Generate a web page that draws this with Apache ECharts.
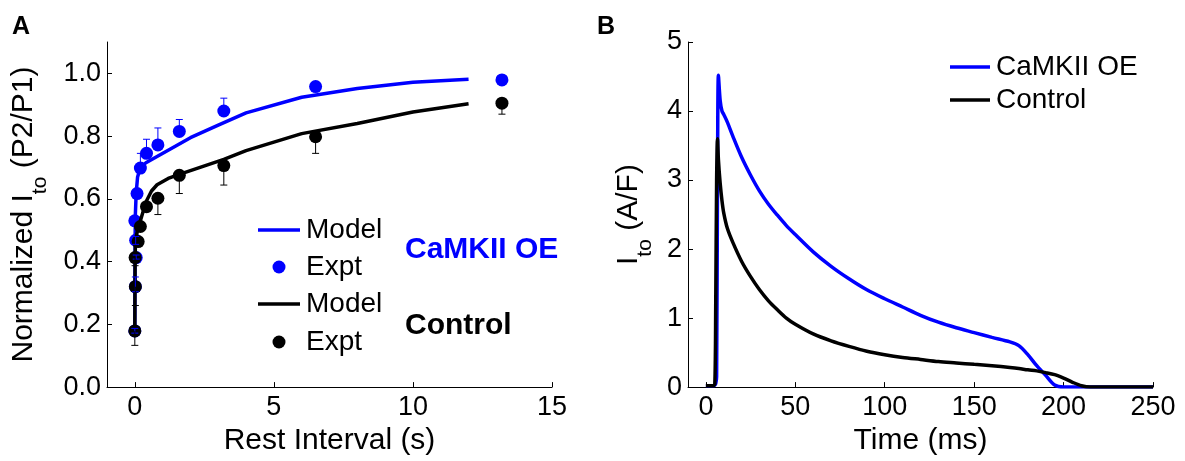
<!DOCTYPE html>
<html>
<head>
<meta charset="utf-8">
<script src="https://cdn.jsdelivr.net/npm/echarts@6/dist/echarts.min.js"></script>
<style>
html,body{margin:0;padding:0;background:#fff;}
#chart{width:1185px;height:461px;}
</style>
</head>
<body>
<div id="chart"></div>
<script>
// ---------- Panel A: recovery of Ito ----------
const restTicks = [0, 5, 10, 15];
const ratioTicks = [0, 0.2, 0.4, 0.6, 0.8, 1.0];

const oeModelX = [0, 0.005, 0.01, 0.02, 0.05, 0.1, 0.2, 0.4, 0.8, 1.2, 2, 3, 4, 6, 8, 10, 12];
const oeModelY = [0.18, 0.35, 0.47, 0.55, 0.62, 0.67, 0.70, 0.715, 0.735, 0.755, 0.795, 0.835, 0.874, 0.924, 0.952, 0.972, 0.981];

const ctlModelX = [0, 0.005, 0.01, 0.02, 0.05, 0.1, 0.2, 0.4, 0.6, 0.8, 1.2, 1.6, 2, 3.2, 4, 6, 8, 10, 12];
const ctlModelY = [0.18, 0.3, 0.4, 0.45, 0.48, 0.5, 0.53, 0.59, 0.625, 0.645, 0.665, 0.678, 0.69, 0.726, 0.754, 0.808, 0.84, 0.877, 0.903];

const oeExptX = [0, 0.02, 0.05, 0.03, 0, 0.08, 0.2, 0.42, 0.83, 1.6, 3.2, 6.5, 13.2];
const oeExptY = [0.179, 0.32, 0.413, 0.468, 0.53, 0.617, 0.698, 0.745, 0.772, 0.815, 0.88, 0.958, 0.979];
const oeErrLow = [0.172, 0.304, 0.408, 0.455, 0.53, 0.617, 0.698, 0.745, 0.772, 0.815, 0.88, 0.958, 0.979];
const oeErrHigh = [0.187, 0.351, 0.421, 0.48, 0.53, 0.617, 0.745, 0.79, 0.826, 0.853, 0.921, 0.958, 0.979];

const ctlExptX = [0, 0.02, 0.01, 0.12, 0.2, 0.42, 0.83, 1.6, 3.2, 6.5, 13.2];
const ctlExptY = [0.179, 0.32, 0.413, 0.464, 0.512, 0.575, 0.602, 0.675, 0.706, 0.798, 0.905];
const ctlErrLow = [0.133, 0.26, 0.387, 0.464, 0.512, 0.575, 0.55, 0.617, 0.644, 0.745, 0.87];
const ctlErrHigh = [0.179, 0.32, 0.413, 0.464, 0.512, 0.575, 0.602, 0.675, 0.706, 0.798, 0.905];

// ---------- Panel B: Ito time course ----------
const timeTicks = [0, 50, 100, 150, 200, 250];
const currentTicks = [0, 1, 2, 3, 4, 5];
const timeMs =     [0, 2, 4, 5, 5.5, 6, 6.5, 7, 8, 9, 10, 12, 15, 20, 25, 30, 35, 40, 45, 50, 60, 70, 80, 90, 100, 110, 120, 130, 140, 150, 160, 170, 175, 180, 185, 190, 195, 200, 205, 210, 215, 220, 250];
const oeCurrent =  [0.02, 0.02, 0.02, 0.03, 0.05, 0.15, 3.0, 4.52, 4.15, 4.0, 3.95, 3.84, 3.64, 3.33, 3.07, 2.84, 2.65, 2.49, 2.34, 2.21, 1.96, 1.75, 1.57, 1.41, 1.28, 1.16, 1.04, 0.94, 0.86, 0.79, 0.72, 0.655, 0.6, 0.47, 0.31, 0.17, 0.03, 0, 0, 0, 0, 0, 0];
const ctlCurrent = [0.02, 0.02, 0.02, 0.05, 1.2, 3.0, 3.6, 3.3, 2.95, 2.7, 2.52, 2.3, 2.1, 1.82, 1.6, 1.41, 1.25, 1.12, 1.0, 0.91, 0.77, 0.67, 0.59, 0.52, 0.47, 0.43, 0.40, 0.37, 0.35, 0.33, 0.31, 0.285, 0.27, 0.25, 0.235, 0.21, 0.18, 0.13, 0.07, 0.02, 0, 0, 0];

// ---------- styling ----------
const FONT = "'Liberation Sans', Arial, Helvetica, sans-serif";
const BLUE = '#0000ff';
const BLACK = '#000000';

const zip = (xs, ys) => xs.map((x, i) => [x, ys[i]]);
const errData = (xs, ys, lo, hi) => xs.map((x, i) => [x, lo[i], hi[i], ys[i]]);

function errRender(color) {
  return function (params, api) {
    const x = api.value(0), lo = api.value(1), hi = api.value(2), y = api.value(3);
    if (lo === hi) return null;
    const pLo = api.coord([x, lo]);
    const pHi = api.coord([x, hi]);
    const cw = 3.5;
    const style = { stroke: color, lineWidth: 1 };
    const children = [{ type: 'line', shape: { x1: pLo[0], y1: pLo[1], x2: pHi[0], y2: pHi[1] }, style }];
    if (lo < y) children.push({ type: 'line', shape: { x1: pLo[0] - cw, y1: pLo[1], x2: pLo[0] + cw, y2: pLo[1] }, style });
    if (hi > y) children.push({ type: 'line', shape: { x1: pHi[0] - cw, y1: pHi[1], x2: pHi[0] + cw, y2: pHi[1] }, style });
    return { type: 'group', children };
  };
}

const axisCommon = {
  type: 'value',
  axisLine: { onZero: false, lineStyle: { color: BLACK, width: 1 } },
  splitLine: { show: false },
  nameTextStyle: { color: BLACK, fontFamily: FONT, fontSize: 30 },
};

const subRich = {
  m: { fontSize: 30, fontFamily: FONT, color: BLACK },
  s: { fontSize: 21, fontFamily: FONT, color: BLACK, padding: [34, 0, 0, 0] }
};

const option = {
  animation: false,
  backgroundColor: '#ffffff',
  grid: [
    { left: 107, top: 42, width: 445, height: 347 },
    { left: 688, top: 42, width: 465, height: 347 }
  ],
  xAxis: [
    Object.assign({}, axisCommon, {
      gridIndex: 0, min: -1, max: 15,
      axisTick: { inside: true, length: 5, customValues: restTicks, lineStyle: { color: BLACK } },
      axisLabel: { customValues: restTicks, margin: 7, color: BLACK, fontSize: 27, fontFamily: FONT },
      name: 'Rest Interval (s)', nameLocation: 'middle', nameGap: 34
    }),
    Object.assign({}, axisCommon, {
      gridIndex: 1, min: -10, max: 250,
      axisTick: { inside: true, length: 5, customValues: timeTicks, lineStyle: { color: BLACK } },
      axisLabel: { customValues: timeTicks, margin: 7, color: BLACK, fontSize: 27, fontFamily: FONT },
      name: 'Time (ms)', nameLocation: 'middle', nameGap: 34
    })
  ],
  yAxis: [
    Object.assign({}, axisCommon, {
      gridIndex: 0, min: 0, max: 1.1,
      axisTick: { inside: true, length: 5, customValues: ratioTicks, lineStyle: { color: BLACK } },
      axisLabel: { customValues: ratioTicks, margin: 6, color: BLACK, fontSize: 27, fontFamily: FONT,
                   formatter: v => Number(v).toFixed(1) },
      name: '{m|Normalized I}{s|to}{m| (P2/P1)}', nameLocation: 'middle', nameGap: 56,
      nameTextStyle: { color: BLACK, fontFamily: FONT, fontSize: 30, rich: subRich }
    }),
    Object.assign({}, axisCommon, {
      gridIndex: 1, min: 0, max: 5,
      axisTick: { inside: true, length: 5, customValues: currentTicks, lineStyle: { color: BLACK } },
      axisLabel: { customValues: currentTicks, margin: 6, color: BLACK, fontSize: 27, fontFamily: FONT },
      name: '{m|I}{s|to}{m| (A/F)}', nameLocation: 'middle', nameGap: 32,
      nameTextStyle: { color: BLACK, fontFamily: FONT, fontSize: 30, rich: subRich }
    })
  ],
  series: [
    { name: 'CaMKII OE Model', type: 'line', xAxisIndex: 0, yAxisIndex: 0, data: zip(oeModelX, oeModelY),
      showSymbol: false, symbol: 'none', lineStyle: { color: BLUE, width: 3.5 }, z: 2 },
    { name: 'CaMKII OE Expt', type: 'scatter', xAxisIndex: 0, yAxisIndex: 0, data: zip(oeExptX, oeExptY),
      symbolSize: 13, itemStyle: { color: BLUE, opacity: 1 }, z: 3 },
    { name: 'Control Model', type: 'line', xAxisIndex: 0, yAxisIndex: 0, data: zip(ctlModelX, ctlModelY),
      showSymbol: false, symbol: 'none', lineStyle: { color: BLACK, width: 3.5 }, z: 4 },
    { name: 'Control Expt', type: 'scatter', xAxisIndex: 0, yAxisIndex: 0, data: zip(ctlExptX, ctlExptY),
      symbolSize: 13, itemStyle: { color: BLACK, opacity: 1 }, z: 5 },
    { name: 'CaMKII OE err', type: 'custom', xAxisIndex: 0, yAxisIndex: 0,
      data: errData(oeExptX, oeExptY, oeErrLow, oeErrHigh), encode: { x: 0, y: [1, 2] },
      renderItem: errRender(BLUE), z: 6 },
    { name: 'Control err', type: 'custom', xAxisIndex: 0, yAxisIndex: 0,
      data: errData(ctlExptX, ctlExptY, ctlErrLow, ctlErrHigh), encode: { x: 0, y: [1, 2] },
      renderItem: errRender(BLACK), z: 7 },
    { name: 'CaMKII OE', type: 'line', xAxisIndex: 1, yAxisIndex: 1, data: zip(timeMs, oeCurrent),
      showSymbol: false, symbol: 'none', smooth: 0.3, lineStyle: { color: BLUE, width: 3.5 }, z: 2 },
    { name: 'Control', type: 'line', xAxisIndex: 1, yAxisIndex: 1, data: zip(timeMs, ctlCurrent),
      showSymbol: false, symbol: 'none', smooth: 0.3, lineStyle: { color: BLACK, width: 3.5 }, z: 3 }
  ],
  graphic: [
    // panel letters
    { type: 'text', left: 12, top: 15, style: { text: 'A', font: "bold 25px " + FONT, fill: BLACK } },
    { type: 'text', left: 597, top: 15, style: { text: 'B', font: "bold 25px " + FONT, fill: BLACK } },
    // panel A legend
    { type: 'line', shape: { x1: 258, y1: 230, x2: 300, y2: 230 }, style: { stroke: BLUE, lineWidth: 3.5 } },
    { type: 'text', x: 306, y: 230, style: { text: 'Model', font: "28px " + FONT, fill: BLACK, verticalAlign: 'middle' } },
    { type: 'circle', shape: { cx: 279, cy: 267, r: 6.5 }, style: { fill: BLUE } },
    { type: 'text', x: 306, y: 267, style: { text: 'Expt', font: "28px " + FONT, fill: BLACK, verticalAlign: 'middle' } },
    { type: 'line', shape: { x1: 258, y1: 304, x2: 300, y2: 304 }, style: { stroke: BLACK, lineWidth: 3.5 } },
    { type: 'text', x: 306, y: 304, style: { text: 'Model', font: "28px " + FONT, fill: BLACK, verticalAlign: 'middle' } },
    { type: 'circle', shape: { cx: 279, cy: 342, r: 6.5 }, style: { fill: BLACK } },
    { type: 'text', x: 306, y: 342, style: { text: 'Expt', font: "28px " + FONT, fill: BLACK, verticalAlign: 'middle' } },
    { type: 'text', x: 405, y: 250, style: { text: 'CaMKII OE', font: "bold 30px " + FONT, fill: BLUE, verticalAlign: 'middle' } },
    { type: 'text', x: 405, y: 326, style: { text: 'Control', font: "bold 30px " + FONT, fill: BLACK, verticalAlign: 'middle' } },
    // panel B legend
    { type: 'line', shape: { x1: 950, y1: 67, x2: 990, y2: 67 }, style: { stroke: BLUE, lineWidth: 3.5 } },
    { type: 'text', x: 996, y: 67, style: { text: 'CaMKII OE', font: "28px " + FONT, fill: BLACK, verticalAlign: 'middle' } },
    { type: 'line', shape: { x1: 950, y1: 100, x2: 990, y2: 100 }, style: { stroke: BLACK, lineWidth: 3.5 } },
    { type: 'text', x: 996, y: 100, style: { text: 'Control', font: "28px " + FONT, fill: BLACK, verticalAlign: 'middle' } }
  ]
};

const chart = echarts.init(document.getElementById('chart'), null, { renderer: 'canvas' });
chart.setOption(option);
</script>
</body>
</html>
